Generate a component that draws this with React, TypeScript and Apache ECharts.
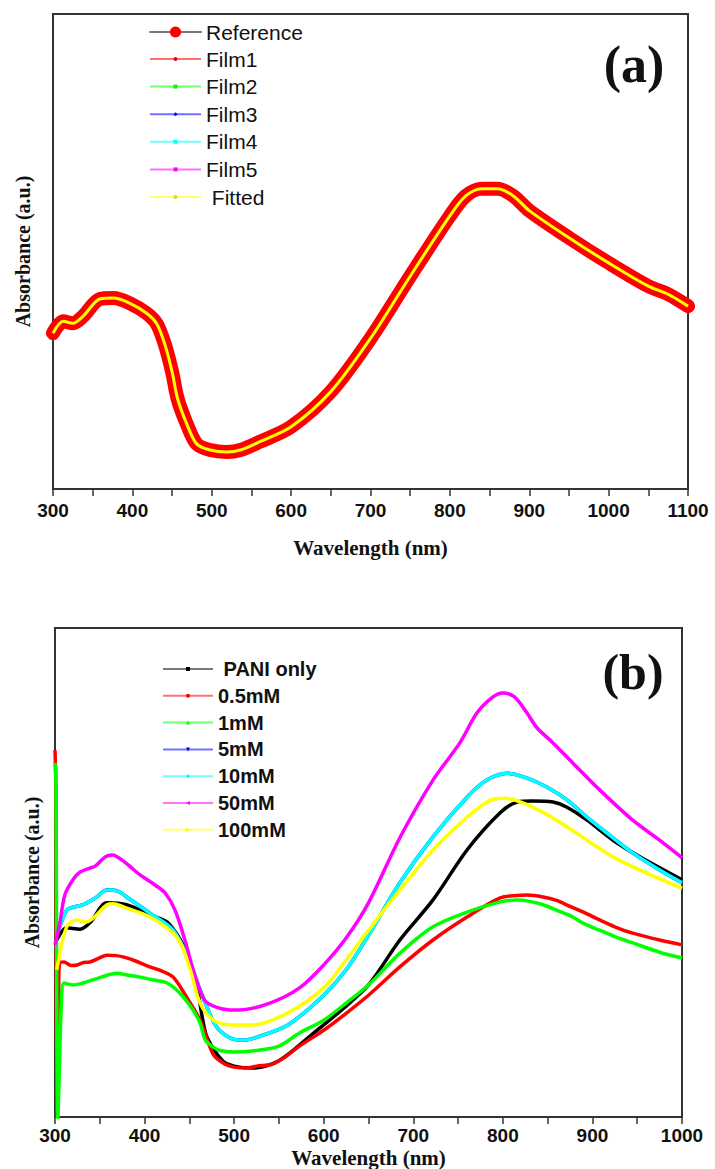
import React, { useEffect, useRef } from 'react';
import * as echarts from 'echarts';

// ---------- Panel (a) data ----------
const wavelengthA = [300, 313, 325, 338, 359, 376, 397, 418, 431, 441, 450, 457, 469, 481, 498, 519, 536, 560, 600, 650, 700, 750, 800, 820, 840, 860, 880, 900, 950, 1000, 1050, 1075, 1100];
const referenceA = [32.8, 35.3, 34.9, 36.4, 40.0, 40.2, 39.1, 37.0, 34.7, 30.4, 24.7, 19.0, 13.5, 9.5, 8.2, 7.8, 8.2, 9.9, 13.1, 20.5, 31.7, 44.8, 57.5, 61.7, 63.2, 63.2, 61.7, 58.6, 52.9, 47.6, 42.7, 41.0, 38.5];
const filmsA = referenceA; // Film1..Film5 lie under the reference band
const fittedA = referenceA;
const ticksA = { min: 300, max: 1100, interval: 50, labelStep: 100 };

// ---------- Panel (b) data ----------
const paniOnly: [number, number][] = [[302, 36.2], [313, 38.7], [328, 38.4], [339, 39.7], [358, 43.8], [380, 43.4], [406, 41.3], [425, 39.9], [440, 36.2], [448, 32.7], [459, 26.0], [465, 19.8], [470, 16.2], [487, 11.5], [500, 10.4], [520, 10.0], [550, 11.5], [589, 17.2], [620, 21.9], [650, 27.0], [685, 36.2], [722, 44.4], [760, 54.6], [797, 62.2], [816, 64.4], [833, 64.6], [856, 64.4], [871, 63.4], [894, 60.7], [923, 56.6], [953, 53.2], [1000, 48.5]];
const mM05: [number, number][] = [[300, 75.0], [301, 67.5], [302, 13.1], [304, 25.4], [305, 31.5], [310, 31.7], [318, 31.0], [325, 31.1], [332, 31.6], [339, 31.7], [348, 32.4], [358, 33.1], [368, 33.0], [377, 32.7], [390, 31.9], [406, 30.7], [420, 29.8], [432, 28.6], [447, 24.5], [462, 19.8], [477, 12.7], [490, 10.8], [500, 10.2], [514, 10.0], [525, 10.4], [543, 10.8], [558, 12.4], [573, 14.5], [602, 18.0], [625, 21.2], [650, 24.9], [685, 30.7], [722, 36.2], [760, 40.9], [797, 44.8], [815, 45.3], [827, 45.4], [845, 45.0], [860, 44.3], [871, 43.4], [890, 41.9], [908, 40.3], [925, 38.9], [945, 37.6], [975, 36.2], [1000, 35.2]];
const mM1: [number, number][] = [[300, 72.4], [301, 68.9], [303, -2], [305, 10.8], [307, 22.5], [310, 27.4], [320, 27.0], [331, 27.4], [345, 28.2], [358, 29.0], [369, 29.4], [382, 29.0], [395, 28.6], [410, 28.0], [425, 27.4], [439, 25.4], [454, 21.9], [462, 19.2], [468, 15.7], [480, 13.9], [487, 13.5], [500, 13.3], [520, 13.5], [550, 14.5], [573, 17.2], [600, 19.8], [625, 23.3], [650, 27.0], [685, 33.5], [722, 38.9], [760, 41.9], [797, 44.0], [816, 44.4], [830, 44.1], [845, 43.4], [860, 42.3], [878, 40.9], [890, 39.6], [908, 38.2], [925, 36.9], [945, 35.6], [975, 33.7], [1000, 32.5]];
const mM10: [number, number][] = [[302, 37.2], [313, 42.3], [320, 42.9], [331, 43.4], [345, 44.8], [358, 46.4], [370, 46.2], [380, 45.0], [406, 41.7], [432, 38.2], [451, 31.5], [462, 26.0], [479, 18.8], [495, 16.2], [510, 15.7], [530, 16.6], [560, 18.8], [600, 24.9], [625, 30.1], [650, 37.2], [685, 47.9], [722, 57.3], [760, 65.4], [782, 68.9], [805, 70.3], [827, 69.3], [849, 67.5], [872, 64.8], [894, 61.3], [916, 58.1], [945, 54.0], [975, 50.5], [1000, 47.9]];
const mM5 = mM10; // 5mM lies under 10mM
const mM50: [number, number][] = [[300, 35.2], [305, 39.3], [311, 45.4], [320, 48.5], [328, 50.1], [339, 50.9], [345, 51.3], [356, 53.2], [364, 53.6], [378, 52.1], [395, 49.5], [412, 47.4], [423, 45.8], [434, 42.3], [445, 36.2], [456, 29.0], [467, 23.9], [479, 22.5], [495, 21.9], [506, 21.9], [540, 23.3], [573, 26.4], [600, 31.1], [625, 36.6], [650, 43.8], [685, 57.1], [722, 68.9], [752, 76.5], [771, 82.6], [789, 85.9], [800, 86.7], [813, 85.9], [827, 82.6], [838, 79.6], [856, 76.5], [878, 72.4], [908, 66.9], [945, 60.7], [975, 56.6], [1000, 53.0]];
const mM100: [number, number][] = [[302, 30.1], [313, 38.9], [324, 40.3], [335, 39.9], [358, 43.4], [365, 43.6], [380, 42.7], [406, 40.9], [428, 38.2], [440, 35.6], [451, 30.1], [462, 23.3], [477, 19.8], [500, 18.8], [520, 18.8], [560, 21.3], [600, 26.4], [625, 32.1], [650, 38.2], [685, 46.4], [722, 54.6], [760, 61.3], [786, 64.8], [801, 65.2], [820, 64.4], [846, 62.2], [872, 59.3], [894, 56.6], [923, 53.2], [953, 50.5], [1000, 46.8]];
const ticksB = { min: 300, max: 1000, interval: 50, labelStep: 100 };

const SERIF = '"Liberation Serif", "Times New Roman", serif';
const SANS = '"Liberation Sans", Arial, sans-serif';

function xAxisCfg(gridIndex: number, t: { min: number; max: number; interval: number; labelStep: number }, margin: number, nameGap: number) {
  return {
    type: 'value', gridIndex, min: t.min, max: t.max, interval: t.interval, position: 'bottom',
    name: 'Wavelength (nm)', nameLocation: 'middle', nameGap,
    nameTextStyle: { fontFamily: SERIF, fontWeight: 'bold', fontSize: 21, color: '#111' },
    axisLine: { show: true, onZero: false, lineStyle: { color: '#333', width: 2 } },
    axisTick: { show: true, inside: false, length: 7, lineStyle: { color: '#333', width: 1.5 } },
    axisLabel: {
      margin, fontFamily: SANS, fontWeight: 'bold', fontSize: 19, color: '#111',
      formatter: (v: number) => (v % t.labelStep === 0 ? String(v) : ''),
    },
    splitLine: { show: false },
    z: 3,
  };
}
function yAxisCfg(gridIndex: number, nameGap: number) {
  return {
    type: 'value', gridIndex, min: 0, max: 100,
    name: 'Absorbance (a.u.)', nameLocation: 'middle', nameGap,
    nameTextStyle: { fontFamily: SERIF, fontWeight: 'bold', fontSize: 20, color: '#111' },
    axisLine: { show: true, lineStyle: { color: '#333', width: 2 } },
    axisTick: { show: false }, axisLabel: { show: false }, splitLine: { show: false },
  };
}

export default function App() {
  const ref = useRef<HTMLDivElement>(null);
  useEffect(() => {
    if (!ref.current) return;
    const chart = echarts.init(ref.current, undefined, { renderer: 'svg' });
    const pairsA = (vals: number[]) => wavelengthA.map((w, i) => [w, vals[i]]);

    const filmColors = ['#ff0000', '#00ff00', '#0000ff', '#00ffff', '#ff00ff'];
    const filmLegendLine = ['#ff7070', '#70ff70', '#7070ff', '#70ffff', '#ff70ff'];
    const filmSymbols = ['circle', 'rect', 'diamond', 'rect', 'rect'];

    const seriesA: any[] = filmColors.map((c, i) => ({
      name: 'Film' + (i + 1), type: 'line', xAxisIndex: 0, yAxisIndex: 0,
      data: pairsA(filmsA), showSymbol: false, symbol: filmSymbols[i], smooth: 0.3,
      lineStyle: { color: c, width: 2 }, itemStyle: { color: c },
    }));
    seriesA.push({
      name: 'Reference', type: 'line', xAxisIndex: 0, yAxisIndex: 0,
      data: pairsA(referenceA), showSymbol: false, symbol: 'circle', smooth: 0.3,
      lineStyle: { color: '#ff0000', width: 14, cap: 'round', join: 'round' }, itemStyle: { color: '#ff0000' },
    });
    seriesA.push({
      name: 'Fitted', type: 'line', xAxisIndex: 0, yAxisIndex: 0,
      data: pairsA(fittedA), showSymbol: false, symbol: 'circle', smooth: 0.3,
      lineStyle: { color: '#ffff00', width: 3 }, itemStyle: { color: '#e0e000' },
    });

    const bDefs = [
      { name: 'PANI only', data: paniOnly, color: '#000000', legend: '#777777', symbol: 'rect', rot: 0 },
      { name: '0.5mM', data: mM05, color: '#ff0000', legend: '#ff7070', symbol: 'circle', rot: 0 },
      { name: '1mM', data: mM1, color: '#00ff00', legend: '#70ff70', symbol: 'triangle', rot: 0 },
      { name: '5mM', data: mM5, color: '#0000ff', legend: '#7070ff', symbol: 'triangle', rot: 180 },
      { name: '10mM', data: mM10, color: '#00ffff', legend: '#70ffff', symbol: 'diamond', rot: 0 },
      { name: '50mM', data: mM50, color: '#ff00ff', legend: '#ff70ff', symbol: 'triangle', rot: 90 },
      { name: '100mM', data: mM100, color: '#ffff00', legend: '#ffff70', symbol: 'triangle', rot: -90 },
    ];
    const seriesB = bDefs.map((d) => ({
      name: d.name, type: 'line', xAxisIndex: 1, yAxisIndex: 1, data: d.data,
      showSymbol: false, symbol: d.symbol, symbolRotate: d.rot, smooth: 0.3,
      lineStyle: { color: d.color, width: 3.5 }, itemStyle: { color: d.color },
    }));

    chart.setOption({
      animation: false,
      backgroundColor: '#ffffff',
      grid: [
        { left: 53, top: 14, width: 635, height: 475, show: true, borderColor: '#333', borderWidth: 2, backgroundColor: 'transparent' },
        { left: 55, top: 628, width: 627, height: 489, show: true, borderColor: '#333', borderWidth: 2, backgroundColor: 'transparent' },
      ],
      xAxis: [xAxisCfg(0, ticksA, 12, 48), xAxisCfg(1, ticksB, 9, 30)],
      yAxis: [yAxisCfg(0, 20), yAxisCfg(1, 13)],
      legend: [
        {
          data: [{ name: 'Reference', itemStyle: { color: '#ff0000' }, lineStyle: { color: '#777', width: 2 } }],
          orient: 'vertical', left: 149, top: 21.5, padding: 0, itemWidth: 51, itemHeight: 14,
          selectedMode: false, textStyle: { fontFamily: SANS, fontSize: 21, color: '#111' },
        },
        {
          data: ['Film1', 'Film2', 'Film3', 'Film4', 'Film5', 'Fitted'].map((n, i) => ({
            name: n,
            lineStyle: { color: i < 5 ? filmLegendLine[i] : '#ffff70', width: 2 },
            itemStyle: { color: i < 5 ? filmColors[i] : '#e0e000' },
          })),
          orient: 'vertical', left: 149, top: 48.5, padding: 0, itemWidth: 51, itemHeight: 5, itemGap: 6.6,
          selectedMode: false, textStyle: { fontFamily: SANS, fontSize: 21, color: '#111' },
          formatter: (n: string) => (n === 'Fitted' ? '\u00a0' + n : n),
        },
        {
          data: bDefs.map((d) => ({ name: d.name, lineStyle: { color: d.legend, width: 2 }, itemStyle: { color: d.color } })),
          orient: 'vertical', left: 162, top: 659, padding: 0, itemWidth: 50, itemHeight: 5, itemGap: 6.8,
          selectedMode: false, textStyle: { fontFamily: SANS, fontWeight: 'bold', fontSize: 20, color: '#111' },
          formatter: (n: string) => (n === 'PANI only' ? '\u00a0' + n : n),
        },
      ],
      graphic: [
        { type: 'text', x: 634, y: 64, style: { text: '(a)', fontFamily: SERIF, fontWeight: 'bold', fontSize: 52, fill: '#111', align: 'center', verticalAlign: 'middle' } },
        { type: 'text', x: 633, y: 672, style: { text: '(b)', fontFamily: SERIF, fontWeight: 'bold', fontSize: 50, fill: '#111', align: 'center', verticalAlign: 'middle' } },
      ],
      series: [...seriesA, ...seriesB],
    });
    return () => chart.dispose();
  }, []);
  return <div ref={ref} style={{ position: 'absolute', left: 0, top: 0, width: 715, height: 1169 }} />;
}
